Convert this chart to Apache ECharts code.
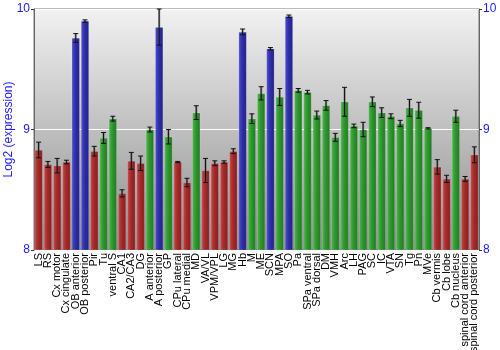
<!DOCTYPE html>
<html>
<head>
<meta charset="utf-8">
<script src="https://cdn.jsdelivr.net/npm/echarts@6/dist/echarts.min.js"></script>
<style>
  html, body { margin: 0; padding: 0; background: #fff; }
  #chart { width: 500px; height: 350px; }
</style>
</head>
<body>
<div id="chart"></div>
<script>
// Brain regions along the x axis
const regions = [
  'LS', 'RS', 'Cx motor', 'Cx cingulate', 'OB anterior', 'OB posterior', 'Pir', 'Tu',
  'ventral S', 'CA1', 'CA2/CA3', 'DG', 'A anterior', 'A posterior', 'GP', 'CPu lateral',
  'CPu medial', 'MD', 'VA/VL', 'VPM/VPL', 'LG', 'MG', 'Hb', 'M', 'ME', 'SCN', 'MPA', 'SO',
  'Pa', 'SPa ventral', 'SPa dorsal', 'DM', 'VMH', 'Arc', 'LH', 'PAG', 'SC', 'IC', 'VTA',
  'SN', 'Tg', 'Pn', 'MVe', 'Cb vermis', 'Cb lobe', 'Cb nucleus', 'spinal cord anterior',
  'spinal cord posterior'
];

// Mean log2 expression per region
const expression = [
  8.83, 8.71, 8.70, 8.73, 9.76, 9.90, 8.82, 8.93,
  9.09, 8.47, 8.74, 8.72, 9.00, 9.85, 8.94, 8.73,
  8.56, 9.14, 8.66, 8.72, 8.73, 8.82, 9.81, 9.09, 9.30, 9.67, 9.27, 9.94,
  9.325, 9.31, 9.12, 9.20, 8.935, 9.23, 9.03, 9.00, 9.23, 9.14, 9.11,
  9.05, 9.18, 9.16, 9.01, 8.69, 8.59, 9.11, 8.59,
  8.79
];

// Standard error per region
const stdError = [
  0.065, 0.025, 0.06, 0.015, 0.036, 0.01, 0.04, 0.045,
  0.02, 0.03, 0.07, 0.06, 0.02, 0.15, 0.06, 0.005,
  0.035, 0.057, 0.1, 0.02, 0.01, 0.02, 0.024, 0.04, 0.055, 0.01, 0.07, 0.01,
  0.015, 0.015, 0.033, 0.04, 0.033, 0.12, 0.015, 0.06, 0.04, 0.04, 0.02,
  0.026, 0.07, 0.066, 0.005, 0.06, 0.03, 0.05, 0.02,
  0.066
];

// Expression class per region: low (r), mid (g), high (b)
const level = [
  'r', 'r', 'r', 'r', 'b', 'b', 'r', 'g',
  'g', 'r', 'r', 'r', 'g', 'b', 'g', 'r',
  'r', 'g', 'r', 'r', 'r', 'r', 'b', 'g', 'g', 'b', 'g', 'b',
  'g', 'g', 'g', 'g', 'g', 'g', 'g', 'g', 'g', 'g', 'g',
  'g', 'g', 'g', 'g', 'r', 'r', 'g', 'r',
  'r'
];

const yTicks = [8, 9, 10];

const palette = {
  r: ['#c94a4a', '#a52a2a', '#8a1c1c'],
  g: ['#4cb84c', '#2f962f', '#1f7a1f'],
  b: ['#5050d0', '#2f2fa8', '#20208a']
};

function barFill(k) {
  const c = palette[k];
  return new echarts.graphic.LinearGradient(0, 0, 1, 0, [
    { offset: 0, color: c[0] },
    { offset: 0.45, color: c[1] },
    { offset: 1, color: c[2] }
  ]);
}

const chart = echarts.init(document.getElementById('chart'));
const font = 'Liberation Sans, Arial, sans-serif';
const blue = '#1a1aff';

const barData = expression.map((v, i) => ({
  value: v,
  itemStyle: {
    color: barFill(level[i]),
    borderColor: 'rgba(255,255,255,0.25)',
    borderWidth: 0.6
  }
}));

const errData = expression.map((v, i) => [i, v - stdError[i], v + stdError[i]]);

chart.setOption({
  animation: false,
  textStyle: { fontFamily: font },
  grid: {
    left: 34, right: 21, top: 9, bottom: 100,
    outerBoundsMode: 'none',
    containLabel: false,
    show: true,
    borderColor: '#777',
    borderWidth: 1,
    backgroundColor: new echarts.graphic.LinearGradient(0, 0, 0, 1, [
      { offset: 0, color: '#f2f2f2' },
      { offset: 1, color: '#8c8c8c' }
    ])
  },
  xAxis: {
    type: 'category',
    data: regions,
    axisLine: { show: false },
    axisTick: { show: false },
    axisLabel: {
      interval: 0, rotate: 90, margin: 3,
      fontSize: 11, color: '#000', fontFamily: font
    }
  },
  yAxis: [
    {
      type: 'value', min: yTicks[0], max: yTicks[yTicks.length - 1], interval: 1,
      name: 'Log2 (expression)', nameLocation: 'middle', nameGap: 19,
      nameMoveOverlap: false,
      nameTextStyle: { color: blue, fontSize: 12, fontFamily: font },
      axisLine: { show: true, lineStyle: { color: '#666' } },
      axisTick: { show: true, length: 3, lineStyle: { color: '#333' } },
      axisLabel: { color: blue, fontSize: 12, margin: 4, fontFamily: font },
      splitLine: { show: true, lineStyle: { color: '#ffffff', width: 1 } }
    },
    {
      type: 'value', min: yTicks[0], max: yTicks[yTicks.length - 1], interval: 1,
      position: 'right',
      axisLine: { show: true, lineStyle: { color: '#666' } },
      axisTick: { show: true, length: 3, lineStyle: { color: '#333' } },
      axisLabel: { color: blue, fontSize: 12, margin: 4, fontFamily: font },
      splitLine: { show: false }
    }
  ],
  series: [
    {
      type: 'bar',
      data: barData,
      barWidth: '86%',
      z: 2
    },
    {
      type: 'custom',
      data: errData,
      z: 3,
      renderItem: function (params, api) {
        const x = api.coord([api.value(0), api.value(1)])[0];
        const yLo = api.coord([api.value(0), api.value(1)])[1];
        const yHi = api.coord([api.value(0), api.value(2)])[1];
        const cap = 2.5;
        const style = { stroke: '#111', lineWidth: 1 };
        return {
          type: 'group',
          children: [
            { type: 'line', shape: { x1: x, y1: yHi, x2: x, y2: yLo },
              style: { stroke: 'rgba(80,80,80,0.5)', lineWidth: 2.2 } },
            { type: 'line', shape: { x1: x, y1: yHi, x2: x, y2: yLo }, style: style },
            { type: 'line', shape: { x1: x - cap, y1: yHi, x2: x + cap, y2: yHi }, style: style },
            { type: 'line', shape: { x1: x - cap, y1: yLo, x2: x + cap, y2: yLo }, style: style }
          ]
        };
      }
    }
  ]
});
</script>
</body>
</html>
